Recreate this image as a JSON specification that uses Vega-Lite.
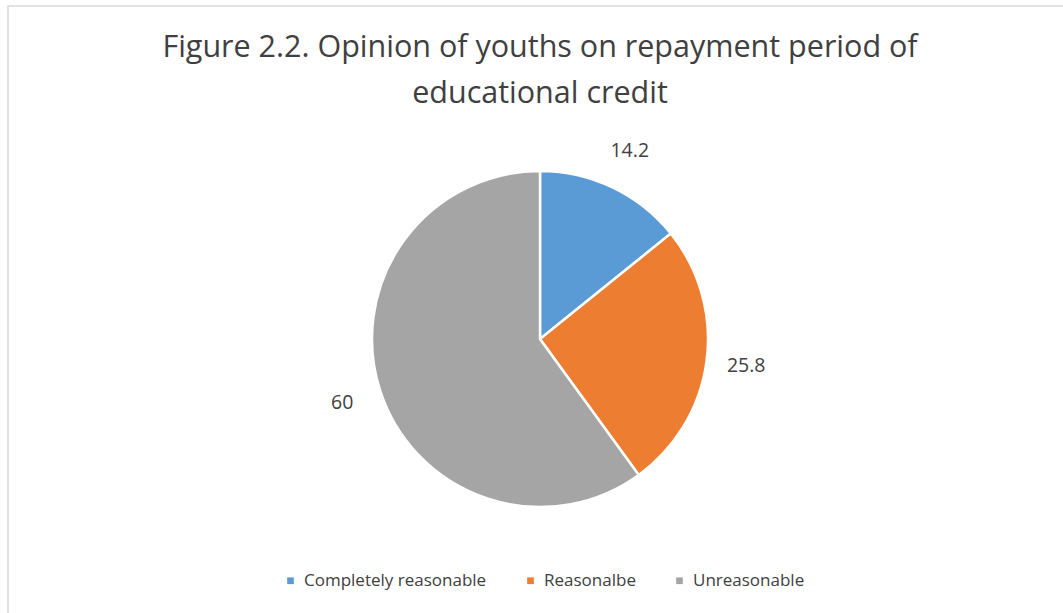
{
  "$schema": "https://vega.github.io/schema/vega-lite/v6.json",
  "autosize": {"type": "none"},
  "width": 1064,
  "height": 666,
  "padding": {"left": 8, "top": 6, "right": 0, "bottom": 0},
  "background": "white",
  "view": {"stroke": "#d9d9d9", "strokeWidth": 1.5, "fill": "white"},
  "config": {
    "view": {"stroke": "#d9d9d9", "strokeWidth": 1.5},
    "font": "Open Sans"
  },
  "title": {
    "text": ["Figure 2.2. Opinion of youths on repayment period of", "educational credit"],
    "font": "Open Sans",
    "fontSize": 30.5,
    "fontWeight": "normal",
    "color": "#404040",
    "lineHeight": 46,
    "anchor": "middle",
    "dy": 107
  },
  "data": {
    "values": [
      {"category": "Completely reasonable", "value": 14.2, "order": 1},
      {"category": "Reasonalbe", "value": 25.8, "order": 2},
      {"category": "Unreasonable", "value": 60, "order": 3}
    ]
  },
  "encoding": {
    "theta": {"field": "value", "type": "quantitative", "stack": true},
    "order": {"field": "order", "type": "quantitative"},
    "color": {
      "field": "category",
      "type": "nominal",
      "sort": ["Completely reasonable", "Reasonalbe", "Unreasonable"],
      "scale": {"domain": ["Completely reasonable", "Reasonalbe", "Unreasonable"], "range": ["#5B9BD5", "#ED7D31", "#A5A5A5"]},
      "legend": {
        "title": null,
        "orient": "none",
        "direction": "horizontal",
        "legendX": 274,
        "legendY": 566,
        "symbolType": "square",
        "symbolSize": 45,
        "symbolStrokeWidth": 0,
        "labelFont": "Open Sans",
        "labelFontSize": 17,
        "labelOffset": 5,
        "labelLimit": 0,
        "labelColor": "#404040",
        "columnPadding": 35
      }
    }
  },
  "layer": [
    {"mark": {"type": "arc", "radius": 168, "stroke": "white", "strokeWidth": 2.5}},
    {
      "mark": {"type": "text", "radius": 208, "fontSize": 19.5, "font": "Open Sans", "fill": "#404040"},
      "encoding": {"text": {"field": "value", "type": "quantitative"}, "color": {"value": "#404040"}}
    }
  ]
}
